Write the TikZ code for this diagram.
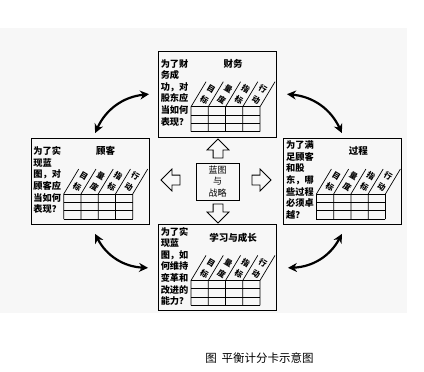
\documentclass[tikz,border=0pt]{standalone}
\usepackage{fontspec}
\usetikzlibrary{positioning, arrows.meta, shapes.arrows}
\newfontfamily\cjk{Noto Sans CJK SC}
\tikzset{
  every node/.style={font=\cjk},
  panel/.style={draw, line width=0.9pt, minimum width=118pt, minimum height=86pt, inner sep=0pt},
  qtext/.style={anchor=west, align=left, inner sep=0pt, font=\cjk\bfseries\fontsize{9.2}{11.6}\selectfont},
  ttl/.style={inner sep=0pt, font=\cjk\bfseries\fontsize{9.5}{11}\selectfont},
  hdr/.style={inner sep=0pt, rotate=-31, font=\cjk\bfseries\fontsize{8}{8.5}\selectfont},
  hub/.style={draw, line width=0.8pt, minimum width=43pt, minimum height=37pt, inner sep=0pt,
              align=center, font=\cjk\fontsize{9}{11.5}\selectfont},
  blk/.style={draw, single arrow, line width=0.8pt, inner sep=4.5pt, single arrow head extend=6pt,
              single arrow head indent=0pt, minimum height=19pt},
  link/.style={{Stealth[length=9pt, width=9pt]}-{Stealth[length=9pt, width=9pt]}, line width=2.2pt, bend left=30},
  captext/.style={font=\cjk\fontsize{11.5}{12}\selectfont},
}
% question, title and slanted table inside one panel
\newcommand{\panelbody}[3]{%
  \begin{scope}[shift={(#1.north west)}]
    \node[qtext] (#1-q) at (2.5,42) {#3};
    \node[ttl] (#1-t) at (75,13) {#2};
    \foreach \k in {0,...,4}
      \draw[line width=0.7pt] (33+17.25*\k,81) -- (33+17.25*\k,56) -- (48+17.25*\k,31);
    \foreach \r in {56,64.33,72.67,81}
      \draw[line width=0.7pt] (33,\r) -- (102,\r);
    \foreach \a/\b [count=\k from 0] in {目/标,量/度,指/标,行/动} {
      \node[hdr] (#1-h\k-a) at (53+17.25*\k,38.2) {\a};
      \node[hdr] (#1-h\k-b) at (46.4+17.25*\k,49.3) {\b};
    }
  \end{scope}}

\begin{document}
\begin{tikzpicture}[x=1pt, y=-1pt]
  \useasboundingbox (0,0) rectangle (424,372);
  \fill[black!3] (0,28) rectangle (407,313);
  \node[hub] (core) at (217.5,181.5) {蓝图\\与\\战略};
  % four perspectives
  \node[panel, above=25pt of core] (fin) {};
  \node[panel, left=46pt of core] (cus) {};
  \node[panel, right=44pt of core] (proc) {};
  \node[panel, below=24pt of core] (lrn) {};
  \panelbody{fin}{财务}{为了财\\务成\\功，对\\股东应\\当如何\\表现？}
  \panelbody{cus}{顾客}{为了实\\现蓝\\图，对\\顾客应\\当如何\\表现？}
  \panelbody{proc}{过程}{为了满\\足顾客\\和股\\东，哪\\些过程\\必须卓\\越？}
  \panelbody{lrn}{学习与成长}{为了实\\现蓝\\图，如\\何维持\\变革和\\改进的\\能力？}
  % hollow arrows round the hub
  \node[blk, shape border rotate=90] (toFin) at (218,151) {};
  \node[blk, shape border rotate=270] (toLrn) at (218,211) {};
  \node[blk, shape border rotate=180] (toCus) at (173,180) {};
  \node[blk] (toProc) at (259,180) {};
  \draw[link] ([shift={(5pt,5pt)}]cus.north) to ([xshift=-9pt]fin.west);
  \draw[link] ([xshift=10pt]fin.east) to ([shift={(-1pt,5pt)}]proc.north);
  \draw[link] ([shift={(-1pt,-9pt)}]proc.south) to ([xshift=11pt]lrn.east);
  \draw[link] ([xshift=-10pt]lrn.west) to ([shift={(5pt,-9pt)}]cus.south);
  \node[captext] (caption) at (259.5,358) {图\hspace{5pt}平衡计分卡示意图};
\end{tikzpicture}
\end{document}
